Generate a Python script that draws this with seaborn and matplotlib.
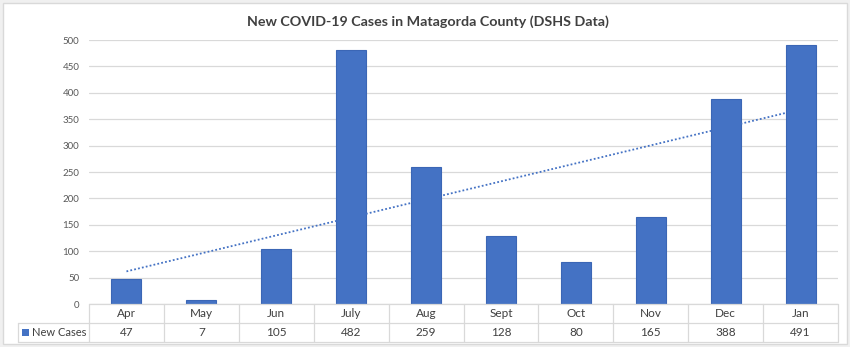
import matplotlib
matplotlib.use("Agg")
import matplotlib.pyplot as plt
import seaborn as sns
import numpy as np
import pandas as pd
from matplotlib.patches import Rectangle
from matplotlib.lines import Line2D
from matplotlib.transforms import blended_transform_factory

months = ["Apr", "May", "Jun", "July", "Aug", "Sept", "Oct", "Nov", "Dec", "Jan"]
new_cases = [47, 7, 105, 482, 259, 128, 80, 165, 388, 491]
series_name = "New Cases"
title = "New COVID-19 Cases in Matagorda County (DSHS Data)"
yticks = [0, 50, 100, 150, 200, 250, 300, 350, 400, 450, 500]

sns.set_theme(style="white")
plt.rcParams['font.family'] = ['Lato', 'DejaVu Sans']

W, H = 850, 347
fig = plt.figure(figsize=(W / 100, H / 100), dpi=100)
fig.patch.set_facecolor('#f0f0f0')
fig.add_artist(Rectangle((3 / W, 3 / H), (W - 6) / W, (H - 6) / H, transform=fig.transFigure,
                         facecolor='white', edgecolor='#d9d9d9', lw=1, zorder=0))

left, right, top, bottom = 89, 838, 40, 304
ax = fig.add_axes([left / W, (H - bottom) / H, (right - left) / W, (bottom - top) / H])
ax.set_facecolor('none')

df = pd.DataFrame({"month": months, "cases": new_cases})
sns.barplot(data=df, x="month", y="cases", color="#4472C4", width=0.4, saturation=1,
            edgecolor="#3b66b5", linewidth=0.8, ax=ax, zorder=3)

# linear trendline
xs = np.arange(len(months))
coef = np.polyfit(xs + 1, new_cases, 1)
ax.plot(xs, np.polyval(coef, xs + 1), color="#4472C4", lw=1.3, ls=(0, (1, 1.2)), zorder=4)

ax.set_xlim(-0.5, len(months) - 0.5)
ax.set_ylim(0, 500)
ax.set_yticks(yticks)
ax.set_yticklabels([str(v) for v in yticks], fontsize=7, color='#595959')
ax.tick_params(axis='y', length=0, pad=7)
ax.set_xticks([])
ax.set_xlabel("")
ax.set_ylabel("")
ax.grid(axis='y', color='#d9d9d9', lw=0.9, zorder=0)
for s in ax.spines.values():
    s.set_visible(False)

fig.text(0.503, (H - 22) / H, title, ha='center', va='center', fontsize=10.3,
         fontweight='bold', color='#404040')

# data table
tcol = '#d9d9d9'
row1, row2, row3 = 304, 323, 342
def fy(py):
    return (H - py) / H
def fx(px):
    return px / W
lines = []
lines.append(((fx(left), fx(right)), (fy(row1), fy(row1))))
lines.append(((fx(18), fx(right)), (fy(row2), fy(row2))))
lines.append(((fx(18), fx(right)), (fy(row3), fy(row3))))
lines.append(((fx(18), fx(18)), (fy(row2), fy(row3))))
cw = (right - left) / len(months)
for i in range(len(months) + 1):
    px = left + i * cw
    lines.append(((fx(px), fx(px)), (fy(row1), fy(row3))))
for xx, yy in lines:
    fig.add_artist(Line2D(xx, yy, color=tcol, lw=0.9, transform=fig.transFigure))

trans = blended_transform_factory(ax.transData, fig.transFigure)
for i, (m, v) in enumerate(zip(months, new_cases)):
    ax.text(i, fy((row1 + row2) / 2), m, transform=trans, ha='center', va='center',
            fontsize=8.5, color='#404040', clip_on=False)
    ax.text(i, fy((row2 + row3) / 2), str(v), transform=trans, ha='center', va='center',
            fontsize=8.5, color='#404040', clip_on=False)

fig.add_artist(Rectangle((fx(22), fy(336)), 7 / W, 7 / H, transform=fig.transFigure,
                         facecolor='#4472C4', edgecolor='none'))
fig.text(fx(32), fy((row2 + row3) / 2), series_name, ha='left', va='center', fontsize=8,
         color='#404040')

fig.savefig("out.png", dpi=100)
